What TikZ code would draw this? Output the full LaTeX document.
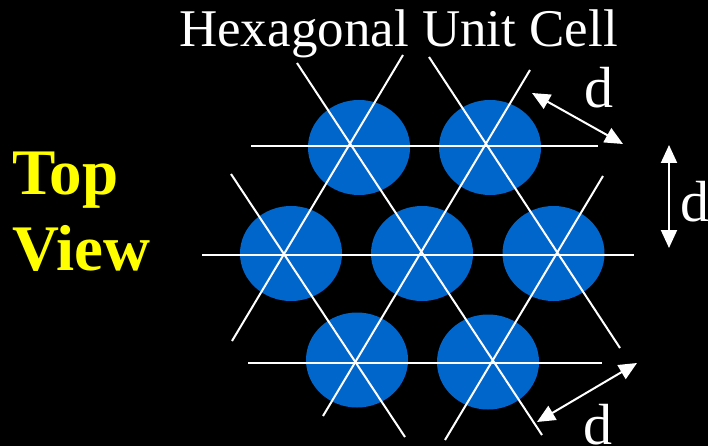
\documentclass[tikz,border=0pt]{standalone}
\usepackage{fontspec}
\setmainfont{Liberation Serif}
\usepackage{xcolor}
\usepackage{tikz}
\usetikzlibrary{calc, arrows.meta, shapes.geometric}

\definecolor{atomblue}{HTML}{0066CC}
\definecolor{labelyellow}{HTML}{FFFF00}

\tikzset{
    atom/.style={ellipse, fill=atomblue, minimum width=102pt, minimum height=95pt, inner sep=0pt},
    lattice/.style={white, line width=2pt},
    dimarrow/.style={white, line width=2pt, {Triangle[length=18pt, width=16pt]}-{Triangle[length=18pt, width=16pt]}},
    dlabel/.style={white, anchor=base, inner sep=0pt, font=\fontsize{58}{58}\selectfont},
    viewlabel/.style={labelyellow, anchor=base west, inner sep=0pt, font=\fontsize{65}{65}\selectfont\bfseries}
}

\begin{document}
\begin{tikzpicture}[x=1pt, y=-1pt]
    \fill[black] (0,0) rectangle (708,446);
    \useasboundingbox (0,0) rectangle (708,446);

    % atoms
    \node[atom] (a1) at (359,147.5) {};
    \node[atom] (a2) at (490,147.5) {};
    \node[atom] (b1) at (291,253.5) {};
    \node[atom] (b2) at (422,253.5) {};
    \node[atom] (b3) at (553.5,253.5) {};
    \node[atom] (c1) at (357,360) {};
    \node[atom] (c2) at (488,362) {};

    % lattice lines
    \draw[lattice] (251,146) -- (598,146);
    \draw[lattice, line width=2.5pt] (202,255) -- (634,255);
    \draw[lattice] (248,363) -- (602,363);
    \draw[lattice] (297,63) -- (542,435);
    \draw[lattice] (403,55) -- (232,341);
    \draw[lattice] (429,57) -- (620,348);
    \draw[lattice] (530,70) -- (323,416);
    \draw[lattice] (231,174) -- (405,437);
    \draw[lattice] (603,176) -- (445,440);

    % spacing arrows
    \coordinate (d1a) at (532,93);
    \coordinate (d1b) at (623,144);
    \coordinate (d2a) at (669,145);
    \coordinate (d2b) at (669,248);
    \coordinate (d3a) at (637,363);
    \coordinate (d3b) at (537,422);
    \draw[dimarrow] (d1a) -- (d1b);
    \draw[dimarrow] (d2a) -- (d2b);
    \draw[dimarrow] (d3a) -- (d3b);
    \node[dlabel] (dtop) at (599,108) {d};
    \node[dlabel] (dside) at (695,222) {d};
    \node[dlabel] (dbot) at (598,444) {d};

    \node[white, anchor=base, inner sep=0pt, font=\fontsize{53}{53}\selectfont] (title) at (398.5,47) {Hexagonal Unit Cell};
    \node[viewlabel] (top) at (12,195) {Top};
    \node[viewlabel] (view) at (12,270) {View};
\end{tikzpicture}
\end{document}
